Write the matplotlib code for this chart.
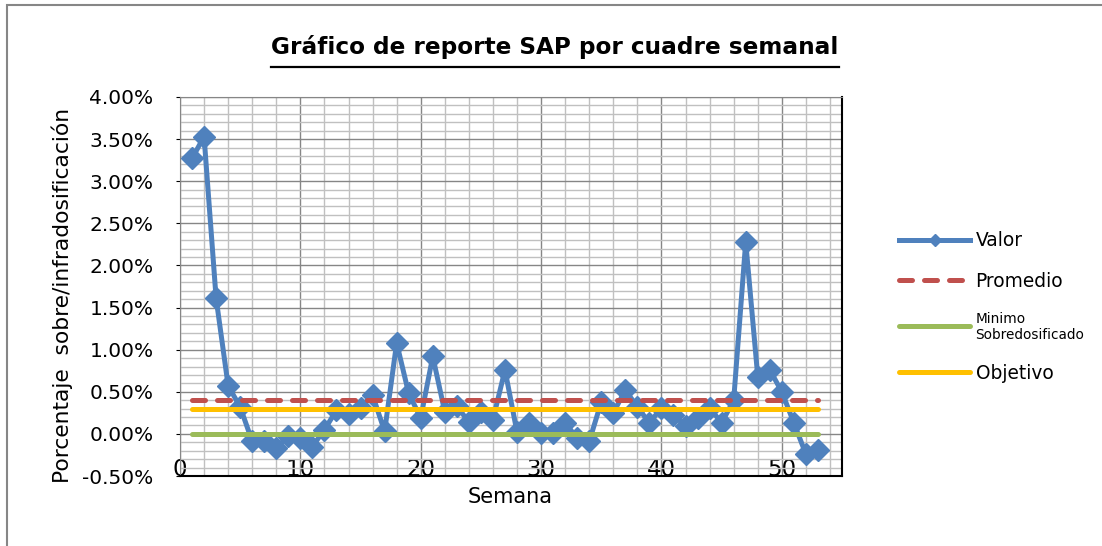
import matplotlib
matplotlib.use("Agg")
import matplotlib.pyplot as plt
from matplotlib.ticker import MultipleLocator, FuncFormatter
from matplotlib.lines import Line2D
from matplotlib.patches import Rectangle

# datos (porcentaje)
semanas = list(range(1, 54))
valor = [3.27, 3.53, 1.61, 0.57, 0.32, -0.09, -0.09, -0.17, -0.02, -0.05,
         -0.15, 0.05, 0.28, 0.24, 0.31, 0.46, 0.03, 1.08, 0.48, 0.19,
         0.92, 0.26, 0.33, 0.14, 0.26, 0.17, 0.76, 0.02, 0.13, 0.01,
         0.01, 0.13, -0.05, -0.09, 0.38, 0.25, 0.52, 0.32, 0.13, 0.31,
         0.23, 0.09, 0.19, 0.31, 0.13, 0.40, 2.28, 0.68, 0.76, 0.50,
         0.13, -0.24, -0.19]
promedio = 0.40
minimo = 0.0
objetivo = 0.29

azul = "#4F81BD"
rojo = "#C0504D"
verde = "#9BBB59"
amarillo = "#FFC000"

fig = plt.figure(figsize=(11.02, 5.46), dpi=100)
ax = fig.add_axes([180 / 1102, 1 - 476 / 546, 662 / 1102, 379 / 546])

ax.plot(semanas, valor, color=azul, lw=3.6, marker="D", ms=11,
        label="Valor", zorder=3)
ax.plot([semanas[0], semanas[-1]], [promedio, promedio], color=rojo, lw=3.6,
        dashes=(2.6, 2.4), dash_capstyle="round", label="Promedio", zorder=4)
ax.plot([semanas[0], semanas[-1]], [minimo, minimo], color=verde, lw=3.6,
        solid_capstyle="round", label="Minimo\nSobredosificado", zorder=4)
ax.plot([semanas[0], semanas[-1]], [objetivo, objetivo], color=amarillo, lw=3.6,
        solid_capstyle="round", label="Objetivo", zorder=4)

ax.set_xlim(0, 55)
ax.set_ylim(-0.5, 4.0)
ax.xaxis.set_major_locator(MultipleLocator(10))
ax.xaxis.set_minor_locator(MultipleLocator(2))
ax.yaxis.set_major_locator(MultipleLocator(0.5))
ax.yaxis.set_minor_locator(MultipleLocator(0.1))
ax.yaxis.set_major_formatter(FuncFormatter(lambda v, p: "%.2f%%" % v))
ax.xaxis.set_major_formatter(FuncFormatter(lambda v, p: "%d" % v if v <= 50 else ""))

ax.grid(which="minor", color="#C0C0C0", lw=1.0)
ax.grid(which="major", color="#868686", lw=1.0)
ax.set_axisbelow(True)

ax.tick_params(axis="x", which="both", length=0, pad=-13, labelsize=16.5)
ax.tick_params(axis="y", which="major", length=3, pad=16, labelsize=14.5)
ax.tick_params(axis="y", which="minor", length=0)

for s in ["left", "top"]:
    ax.spines[s].set_color("#868686")
for s in ["bottom", "right"]:
    ax.spines[s].set_color("black")
    ax.spines[s].set_linewidth(1.5)

fig.text(62 / 1102, 1 - 295 / 546, "Porcentaje  sobre/infradosificación",
         rotation=90, ha="center", va="center", fontsize=15.7)
fig.text(510 / 1102, 1 - 497 / 546, "Semana", ha="center", va="center", fontsize=15)

titulo = fig.text(555 / 1102, 1 - 47 / 546, "Gráfico de reporte SAP por cuadre semanal",
                  ha="center", va="center", fontsize=16.7, fontweight="bold")

leg = ax.legend(loc="center left", bbox_to_anchor=(890 / 1102, 1 - 307 / 546),
                bbox_transform=fig.transFigure, frameon=False, borderpad=0,
                fontsize=13.4, handlelength=3.8, handletextpad=0.3,
                labelspacing=1.15, numpoints=1, markerscale=0.6)
leg.get_texts()[2].set_fontsize(9.8)

# subrayado del titulo
fig.canvas.draw()
bb = titulo.get_window_extent(fig.canvas.get_renderer())
fig.add_artist(Line2D([bb.x0 / 1102, bb.x1 / 1102],
                      [(bb.y0 - 8) / 546, (bb.y0 - 8) / 546],
                      transform=fig.transFigure, color="black", lw=1.6))

# borde del area del grafico
fig.add_artist(Rectangle((7 / 1102, -0.05), 1.1, 1 - 5 / 546 + 0.05,
                         transform=fig.transFigure, fill=False,
                         edgecolor="#868686", lw=1.5))

fig.savefig("out.png", dpi=100)
